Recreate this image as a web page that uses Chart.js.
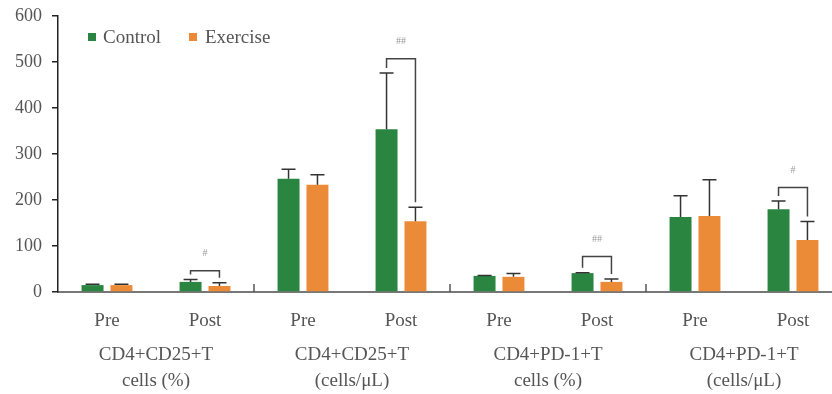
<!DOCTYPE html>
<html>
<head>
<meta charset="utf-8">
<script src="https://cdn.jsdelivr.net/npm/chart.js@4"></script>
<style>
  html, body { margin: 0; padding: 0; background: #fff; overflow: hidden; }
  #wrap { width: 842px; height: 394px; }
</style>
</head>
<body>
<div id="wrap"><canvas id="cd4Chart"></canvas></div>
<script>
const categories = ['Pre', 'Post', 'Pre', 'Post', 'Pre', 'Post', 'Pre', 'Post'];
const groupLabels = [
  ['CD4+CD25+T', 'cells (%)'],
  ['CD4+CD25+T', '(cells/μL)'],
  ['CD4+PD-1+T', 'cells (%)'],
  ['CD4+PD-1+T', '(cells/μL)']
];
const yTicks = [0, 100, 200, 300, 400, 500, 600];

const controlValues = [15, 22, 246, 354, 35, 41, 163, 180];
const controlErrors = [2, 5, 21, 122, 1, 1, 46, 18];
const exerciseValues = [15, 13, 233, 154, 33, 22, 165, 113];
const exerciseErrors = [2, 7, 22, 30, 7, 6, 79, 40];

// significance brackets (category index, top of bracket, label)
const bracketIndex = [1, 3, 5, 7];
const bracketTop = [46, 507, 77, 227];
const bracketLabel = ['#', '##', '##', '#'];

const GREEN = '#298540';
const ORANGE = '#EC8B37';
const TEXT = '#555';
const SERIF = '"Liberation Serif", "DejaVu Serif", serif';

const extras = {
  id: 'extras',
  afterDatasetsDraw(chart) {
    const ctx = chart.ctx;
    const x = chart.scales.x, y = chart.scales.y;
    const area = chart.chartArea;
    const metaC = chart.getDatasetMeta(0), metaE = chart.getDatasetMeta(1);
    ctx.save();

    // error bars (upper only)
    ctx.strokeStyle = '#333';
    ctx.lineWidth = 1.5;
    [[metaC, controlValues, controlErrors], [metaE, exerciseValues, exerciseErrors]].forEach(([meta, vals, errs]) => {
      meta.data.forEach((bar, i) => {
        const top = y.getPixelForValue(vals[i]);
        const cap = y.getPixelForValue(vals[i] + errs[i]);
        ctx.beginPath();
        ctx.moveTo(bar.x, top);
        ctx.lineTo(bar.x, cap);
        ctx.moveTo(bar.x - 7, cap);
        ctx.lineTo(bar.x + 7, cap);
        ctx.stroke();
      });
    });

    // brackets
    ctx.strokeStyle = '#444';
    ctx.lineWidth = 1.5;
    bracketIndex.forEach((i, k) => {
      const xl = metaC.data[i].x, xr = metaE.data[i].x;
      const yt = y.getPixelForValue(bracketTop[k]);
      const yl = y.getPixelForValue(controlValues[i] + controlErrors[i]) - 5;
      const yr = y.getPixelForValue(exerciseValues[i] + exerciseErrors[i]) - 5;
      ctx.beginPath();
      ctx.moveTo(xl, yl);
      ctx.lineTo(xl, yt);
      ctx.lineTo(xr, yt);
      ctx.lineTo(xr, yr);
      ctx.stroke();
      ctx.fillStyle = '#999';
      ctx.font = '10px ' + SERIF;
      ctx.textAlign = 'center';
      ctx.textBaseline = 'middle';
      ctx.fillText(bracketLabel[k], (xl + xr) / 2, yt - 17);
    });

    // group separators on the x axis
    ctx.strokeStyle = '#555';
    ctx.lineWidth = 1.5;
    for (let g = 1; g < groupLabels.length; g++) {
      const sx = (x.getPixelForTick(2 * g - 1) + x.getPixelForTick(2 * g)) / 2;
      ctx.beginPath();
      ctx.moveTo(sx, area.bottom - 8);
      ctx.lineTo(sx, area.bottom);
      ctx.stroke();
    }

    // group labels
    ctx.fillStyle = TEXT;
    ctx.font = '19px ' + SERIF;
    ctx.textAlign = 'center';
    ctx.textBaseline = 'middle';
    groupLabels.forEach((lines, g) => {
      const cx = (x.getPixelForTick(2 * g) + x.getPixelForTick(2 * g + 1)) / 2;
      ctx.fillText(lines[0], cx, area.bottom + 63);
      ctx.fillText(lines[1], cx, area.bottom + 89);
    });

    // legend
    ctx.font = '19px ' + SERIF;
    ctx.textAlign = 'left';
    ctx.fillStyle = GREEN;
    ctx.fillRect(88, 33, 8, 8);
    ctx.fillStyle = TEXT;
    ctx.fillText('Control', 103, 38);
    ctx.fillStyle = ORANGE;
    ctx.fillRect(189, 33, 8, 8);
    ctx.fillStyle = TEXT;
    ctx.fillText('Exercise', 205, 38);

    ctx.restore();
  }
};

new Chart(document.getElementById('cd4Chart'), {
  type: 'bar',
  data: {
    labels: categories,
    datasets: [
      { label: 'Control', data: controlValues, backgroundColor: GREEN, categoryPercentage: 0.59, barPercentage: 0.76 },
      { label: 'Exercise', data: exerciseValues, backgroundColor: ORANGE, categoryPercentage: 0.59, barPercentage: 0.76 }
    ]
  },
  options: {
    responsive: true,
    maintainAspectRatio: false,
    animation: false,
    layout: { padding: { top: 16, right: 0, bottom: 0, left: 0 } },
    plugins: {
      legend: { display: false },
      tooltip: { enabled: false }
    },
    scales: {
      x: {
        grid: { display: false },
        border: { color: '#777', width: 2 },
        ticks: { color: TEXT, font: { family: SERIF, size: 19 }, padding: 10 },
        afterFit(scale) { scale.height = 102; }
      },
      y: {
        min: 0,
        max: 600,
        afterBuildTicks(scale) { scale.ticks = yTicks.map(v => ({ value: v })); },
        grid: { drawOnChartArea: false, drawTicks: true, tickLength: 6, color: '#222', lineWidth: 1.5 },
        border: { color: '#222', width: 1.5 },
        ticks: { color: TEXT, font: { family: SERIF, size: 18 }, padding: 10 },
        afterFit(scale) { scale.width = 58; scale.paddingTop = 0; scale.paddingBottom = 0; }
      }
    }
  },
  plugins: [extras]
});
</script>
</body>
</html>
